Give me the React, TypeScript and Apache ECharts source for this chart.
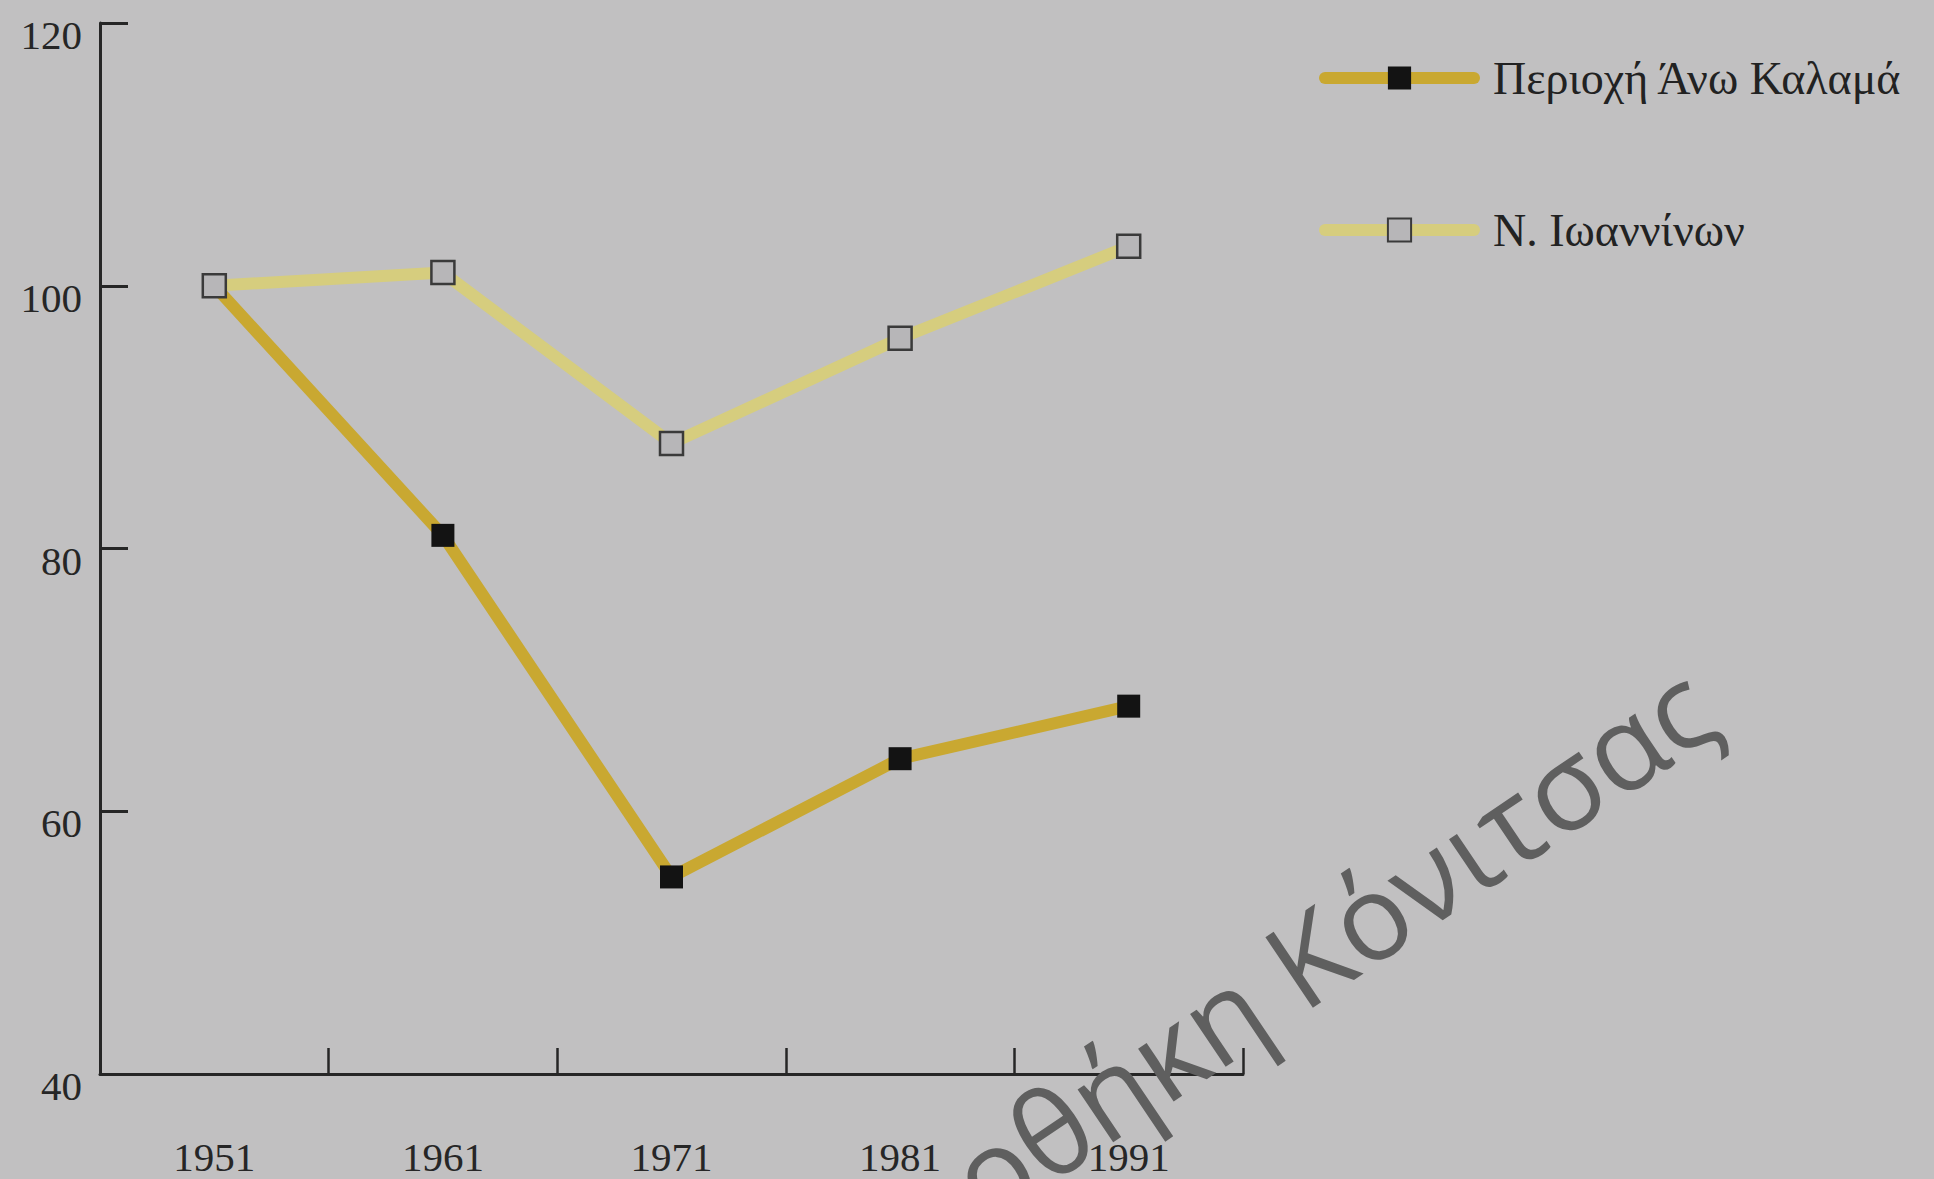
import React, { useEffect, useRef } from "react";
import * as echarts from "echarts";

const years = ["1951", "1961", "1971", "1981", "1991"];
const kalamaName = "Περιοχή Άνω Καλαμά";
const ioanninaName = "Ν. Ιωαννίνων";
const kalamaValues = [100, 81, 55, 64, 68];
const ioanninaValues = [100, 101, 88, 96, 103];
const yMin = 40;
const yMax = 120;
const yInterval = 20;
const watermark = "Βιβλιοθήκη Κόνιτσας";

const SERIF = "'Liberation Serif', 'DejaVu Serif', serif";

export default function App() {
  const ref = useRef<HTMLDivElement>(null);
  useEffect(() => {
    if (!ref.current) return;
    const chart = echarts.init(ref.current, null, { renderer: "svg" });
    const option: any = {
      animation: false,
      backgroundColor: "#c1c0c1",
      grid: { left: 100, right: 691, top: 23, bottom: 105, containLabel: false },
      legend: {
        orient: "vertical",
        left: 1314,
        top: 50,
        itemWidth: 149,
        itemHeight: 29,
        itemGap: 106,
        selectedMode: false,
        data: [kalamaName, ioanninaName],
        lineStyle: { width: 12, cap: "round" },
        textStyle: {
          fontFamily: SERIF,
          fontSize: 46,
          color: "#222222",
          padding: [0, 0, 0, 14],
        },
      },
      xAxis: {
        type: "category",
        data: years,
        boundaryGap: true,
        axisLine: { show: true, lineStyle: { color: "#262626", width: 3 } },
        axisTick: { show: true, inside: true, length: 26, interval: 0, lineStyle: { color: "#262626", width: 2.5 } },
        axisLabel: { fontFamily: SERIF, fontSize: 41, color: "#262626", margin: 62, interval: 0 },
        splitLine: { show: false },
      },
      yAxis: {
        type: "value",
        min: yMin,
        max: yMax,
        interval: yInterval,
        axisLine: { show: true, lineStyle: { color: "#262626", width: 3 } },
        axisTick: { show: true, inside: true, length: 28, lineStyle: { color: "#262626", width: 3 } },
        axisLabel: {
          fontFamily: SERIF,
          fontSize: 41,
          color: "#262626",
          margin: 18,
          verticalAlign: "top",
          lineHeight: 24,
        },
        splitLine: { show: false },
      },
      series: [
        {
          name: kalamaName,
          type: "line",
          data: kalamaValues,
          symbol: "rect",
          symbolSize: 23,
          lineStyle: { color: "#c9a831", width: 12 },
          itemStyle: { color: "#131313", borderWidth: 0 },
          z: 2,
        },
        {
          name: ioanninaName,
          type: "line",
          data: ioanninaValues,
          symbol: "rect",
          symbolSize: 23,
          lineStyle: { color: "#d6cd7e", width: 12 },
          itemStyle: { color: "#b7b6b8", borderColor: "#3a3a3a", borderWidth: 2.5 },
          z: 3,
        },
      ],
      graphic: [
        {
          type: "text",
          x: 1699,
          y: 692,
          rotation: (34 * Math.PI) / 180,
          z: 100,
          silent: true,
          style: {
            text: watermark,
            fontFamily: "'Open Sans', 'Noto Sans', sans-serif",
            fontSize: 119,
            fill: "#5f5f5f",
            align: "right",
            verticalAlign: "middle",
          },
        },
      ],
    };
    chart.setOption(option);
    return () => chart.dispose();
  }, []);
  return (
    <div
      ref={ref}
      style={{ position: "fixed", left: 0, top: 0, width: 1934, height: 1179 }}
    />
  );
}
